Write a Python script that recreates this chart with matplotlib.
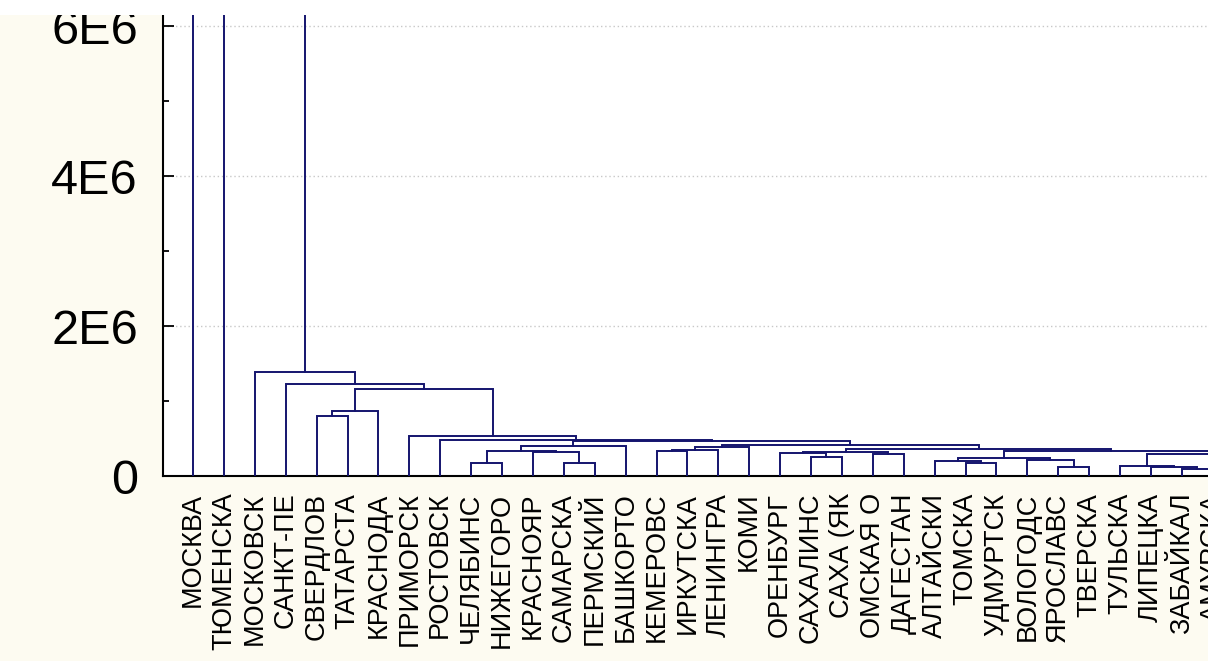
import numpy as np
import matplotlib
matplotlib.use("Agg")
import matplotlib.pyplot as plt
from matplotlib.patches import Rectangle
from matplotlib.ticker import MultipleLocator

# leaf names in dendrogram order (last ones lie beyond the cropped edge)
labels = [
    "МОСКВА", "ТЮМЕНСКА", "МОСКОВСК", "САНКТ-ПЕ", "СВЕРДЛОВ", "ТАТАРСТА",
    "КРАСНОДА", "ПРИМОРСК", "РОСТОВСК", "ЧЕЛЯБИНС", "НИЖЕГОРО", "КРАСНОЯР",
    "САМАРСКА", "ПЕРМСКИЙ", "БАШКОРТО", "КЕМЕРОВС", "ИРКУТСКА", "ЛЕНИНГРА",
    "КОМИ", "ОРЕНБУРГ", "САХАЛИНС", "САХА (ЯК", "ОМСКАЯ О", "ДАГЕСТАН",
    "АЛТАЙСКИ", "ТОМСКА", "УДМУРТСК", "ВОЛОГОДС", "ЯРОСЛАВС", "ТВЕРСКА",
    "ТУЛЬСКА", "ЛИПЕЦКА", "ЗАБАЙКАЛ", "АМУРСКА", "ХАБАРОВС", "ВОЛГОГРА",
    "САРАТОВС", "КАЛУЖСКА",
]

# merges, scipy-linkage style: id >= len(labels) refers to an earlier merge
merge_a = [4, 38, 12, 11, 9, 42, 43, 15, 45, 46, 20, 19, 22, 49, 25, 24, 28, 27,
           53, 32, 31, 30, 34, 36, 60, 59, 56, 51, 47, 44, 8, 7, 39, 3, 2, 1, 0]
merge_b = [5, 6, 13, 40, 10, 41, 14, 16, 17, 18, 21, 48, 23, 50, 26, 52, 29, 54,
           55, 33, 57, 58, 35, 37, 61, 62, 63, 64, 65, 66, 67, 68, 69, 70, 71, 72, 73]
merge_h = [0.800e6, 0.867e6, 0.173e6, 0.320e6, 0.173e6, 0.333e6, 0.400e6,
           0.329e6, 0.353e6, 0.387e6, 0.257e6, 0.313e6, 0.300e6, 0.323e6,
           0.173e6, 0.204e6, 0.116e6, 0.220e6, 0.240e6, 0.093e6, 0.120e6,
           0.140e6, 0.107e6, 0.133e6, 0.187e6, 0.287e6, 0.331e6, 0.360e6,
           0.417e6, 0.463e6, 0.476e6, 0.537e6, 1.160e6, 1.231e6, 1.391e6,
           8.5e6, 1.6e7]

y_ticks = [0, 2e6, 4e6, 6e6]
y_ticklabels = ["0", "2E6", "4E6", "6E6"]

plt.rcParams["font.family"] = ["Liberation Sans", "DejaVu Sans"]

W, H = 1208, 661
fig = plt.figure(figsize=(W / 100, H / 100), dpi=100, facecolor="#fdfbf1")

# axes box in pixels: left spine at 163, baseline at 476, top at 15
left, base, top, right = 163, 476, 15, W
ax = fig.add_axes([left / W, (H - base) / H, (right - left) / W, (base - top) / H])
ax.set_facecolor("white")

n = len(labels)
xpos = list(range(n))
hgt = [0.0] * n
line_col = "#14146e"
for a, b, h in zip(merge_a, merge_b, merge_h):
    xa, xb = xpos[a], xpos[b]
    ax.plot([xa, xa, xb, xb], [hgt[a], h, h, hgt[b]], color=line_col, lw=1.4,
            solid_joinstyle="miter", zorder=3)
    xpos.append((xa + xb) / 2)
    hgt.append(h)

ax.set_yticks(y_ticks)
ax.set_yticklabels(y_ticklabels, fontsize=35)
ax.yaxis.set_minor_locator(MultipleLocator(1e6))
ax.tick_params(axis="y", which="major", direction="in", length=8, width=1.3,
               pad=18, color="black")
ax.tick_params(axis="y", which="minor", direction="in", length=4.5, width=1.3)
ax.yaxis.grid(True, which="major", color="#c8c8c8", linestyle=(0, (1, 2)), lw=1)
ax.set_axisbelow(True)

ax.set_xticks(range(n))
ax.set_xticklabels(labels, rotation=90, fontsize=19.5)
ax.tick_params(axis="x", length=0, pad=12)

# limits after the ticks, otherwise set_xticks widens them again
step = 30.9  # px between leaves
first = 193
ax.set_xlim(-(first - left) / step, (right - first) / step)
ax.set_ylim(0, (base - top) / 75 * 1e6)

# the leaf just past the right edge shows only a sliver of its label
xmax = ax.get_xlim()[1]
for i in range(n):
    if i > xmax:
        t = ax.text(i, -12 / 72 * 100 / (base - top), labels[i], rotation=90,
                    fontsize=19.5, ha="center", va="top",
                    transform=ax.get_xaxis_transform())
        t.set_clip_box(fig.bbox)
        t.set_clip_on(True)

for s in ["top", "right"]:
    ax.spines[s].set_visible(False)
ax.spines["left"].set_linewidth(1.5)
ax.spines["bottom"].set_linewidth(1.5)

# white strip along the cropped top edge
fig.patches.append(Rectangle((0, 1 - top / H), 1, top / H, transform=fig.transFigure,
                             facecolor="white", edgecolor="none", zorder=5))

fig.savefig("out.png", dpi=100, facecolor=fig.get_facecolor())
